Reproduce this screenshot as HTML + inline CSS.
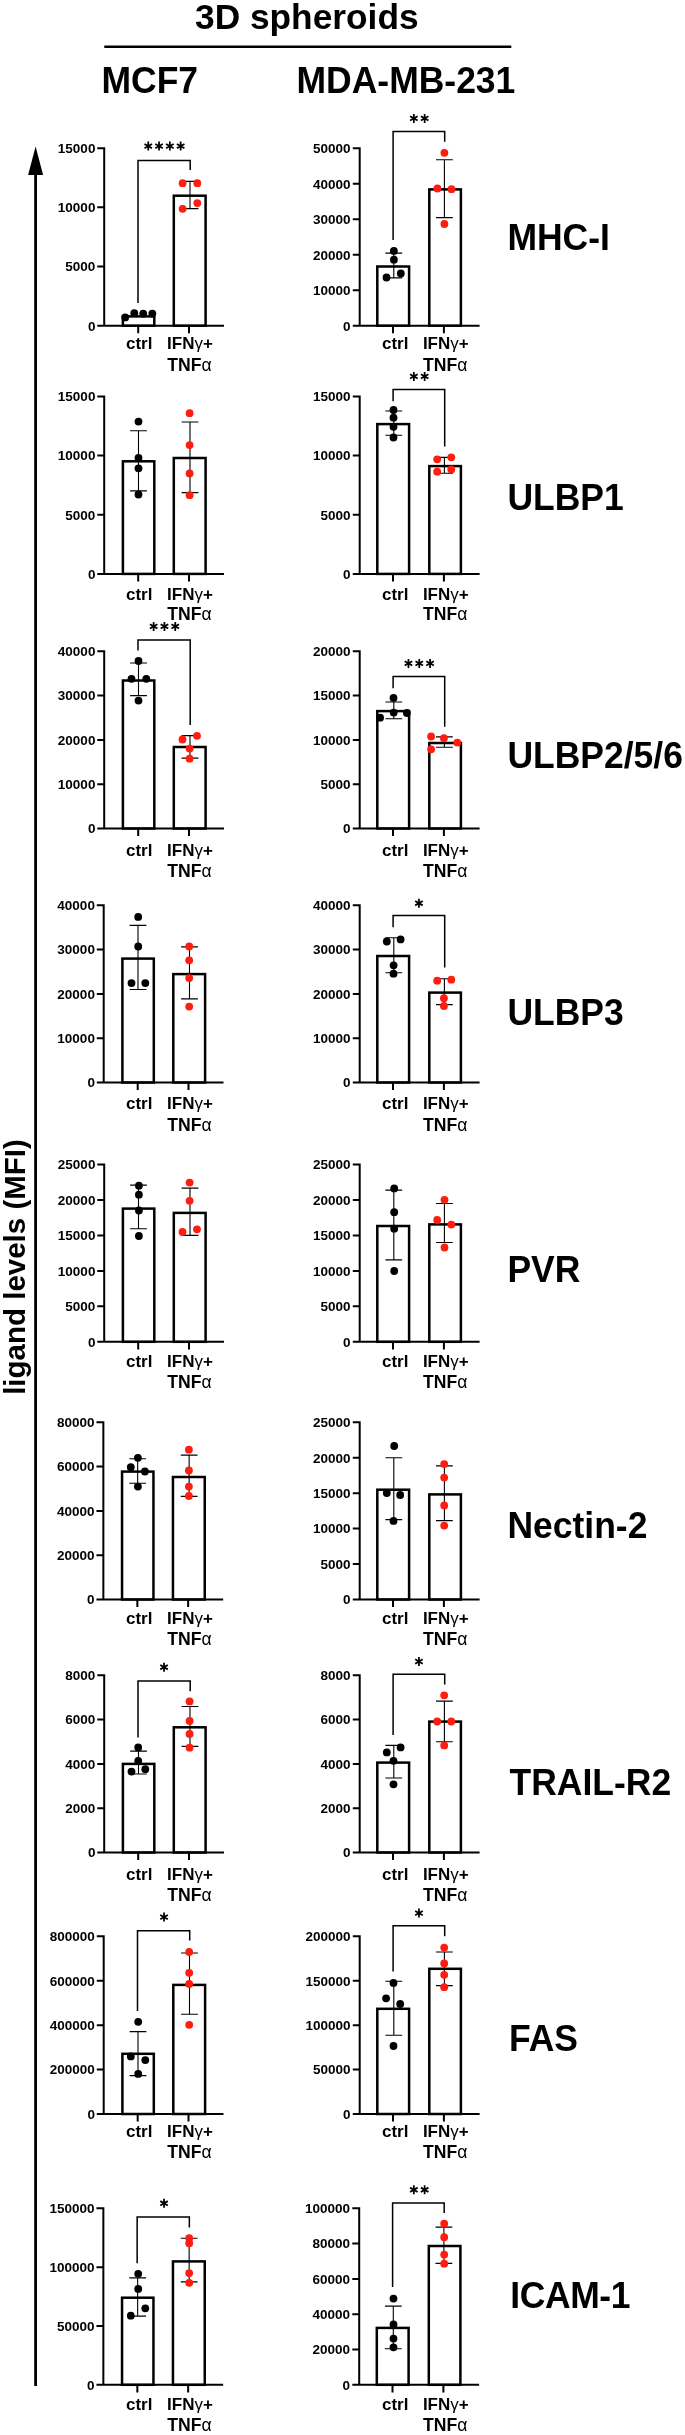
<!DOCTYPE html>
<html><head><meta charset="utf-8"><title>3D spheroids ligand levels</title>
<style>
html,body{margin:0;padding:0;background:#fff;}
body{width:685px;height:2435px;overflow:hidden;font-family:"Liberation Sans", sans-serif;}
svg{display:block;will-change:transform}
svg text{font-family:"Liberation Sans", sans-serif;font-weight:bold;fill:#000;}
</style></head><body>
<svg width="685" height="2435" viewBox="0 0 685 2435">
<rect width="685" height="2435" fill="#fff"/>
<text transform="translate(306.8 28.6) scale(1 1.02)" text-anchor="middle" font-size="35.3">3D spheroids</text>
<path d="M104.3 46.8H511.3" stroke="#000" stroke-width="2.5"/>
<text transform="translate(101.5 92.8) scale(1 1.04)" font-size="35.5">MCF7</text>
<text transform="translate(296.5 92.8) scale(1 1.04)" font-size="35.5">MDA-MB-231</text>
<path d="M35.6 2386V172" stroke="#000" stroke-width="2.8" fill="none"/>
<path d="M35.6 146.6L43.1 175H28.1Z" fill="#000"/>
<text transform="translate(24.5 1267) rotate(-90)" text-anchor="middle" font-size="29.5">ligand levels (MFI)</text>
<text transform="translate(507.4 250.4) scale(1 1.04)" font-size="35.5">MHC-I</text>
<text transform="translate(507.4 510.3) scale(1 1.04)" font-size="35.5">ULBP1</text>
<text transform="translate(507.4 767.9) scale(1 1.04)" font-size="35.5">ULBP2/5/6</text>
<text transform="translate(507.4 1024.6) scale(1 1.04)" font-size="35.5">ULBP3</text>
<text transform="translate(507.4 1281.6) scale(1 1.04)" font-size="35.5">PVR</text>
<text transform="translate(507.4 1537.8) scale(1 1.02)" font-size="35.5">Nectin-2</text>
<text transform="translate(509.5 1794.7) scale(1 1.04)" font-size="35.5">TRAIL-R2</text>
<text transform="translate(509.0 2050.9) scale(1 1.04)" font-size="35.5">FAS</text>
<text transform="translate(510.3 2307.8) scale(1 1.04)" font-size="35.5" letter-spacing="-0.4">ICAM-1</text>
<g><g><rect x="122.9" y="316.4" width="31.4" height="9.3" fill="#fff" stroke="#000" stroke-width="2.5"/>
<rect x="173.8" y="195.7" width="31.8" height="130" fill="#fff" stroke="#000" stroke-width="2.5"/>
<path d="M104.2 147.2V325.7M97.3 325.7H224M97.3 148.2H104.2M97.3 207.37H104.2M97.3 266.53H104.2M138.2 325.7V333.3M189 325.7V333.3" stroke="#000" stroke-width="2.0" fill="none"/>
<text x="95.4" y="153" text-anchor="end" font-size="13.5">15000</text>
<text x="95.4" y="212.17" text-anchor="end" font-size="13.5">10000</text>
<text x="95.4" y="271.33" text-anchor="end" font-size="13.5">5000</text>
<text x="95.4" y="330.5" text-anchor="end" font-size="13.5">0</text>
<path d="M190 181.4V208.6M181.6 181.4h16.8M181.6 208.6h16.8" stroke="#000" stroke-width="1.1" fill="none"/></g>
<g><text x="139.2" y="349.2" text-anchor="middle" font-size="17">ctrl</text>
<text x="190" y="349.2" text-anchor="middle" font-size="17">IFN<tspan font-weight="normal">γ</tspan>+</text>
<text x="189.5" y="370.5" text-anchor="middle" font-size="17.6">TNF<tspan font-weight="normal">α</tspan></text>
<circle cx="125.2" cy="317.4" r="3.9" fill="#000"/>
<circle cx="134.3" cy="313.2" r="3.9" fill="#000"/>
<circle cx="143.2" cy="313.6" r="3.9" fill="#000"/>
<circle cx="152.3" cy="313.6" r="3.9" fill="#000"/>
<circle cx="182.6" cy="183.2" r="3.9" fill="#ff1c10"/>
<circle cx="197.3" cy="183.2" r="3.9" fill="#ff1c10"/>
<circle cx="182.6" cy="208.8" r="3.9" fill="#ff1c10"/>
<circle cx="197.3" cy="203.1" r="3.9" fill="#ff1c10"/>
<path d="M138 303V160.6H190.2V170" stroke="#000" stroke-width="1.5" fill="none"/>
<path d="M148.25 141.6V150.6M144.48 143.92L152.02 148.28M152.02 143.92L144.48 148.28" stroke="#000" stroke-width="1.75" fill="none"/>
<path d="M159.05 141.6V150.6M155.28 143.92L162.82 148.28M162.82 143.92L155.28 148.28" stroke="#000" stroke-width="1.75" fill="none"/>
<path d="M169.85 141.6V150.6M166.08 143.92L173.62 148.28M173.62 143.92L166.08 148.28" stroke="#000" stroke-width="1.75" fill="none"/>
<path d="M180.65 141.6V150.6M176.88 143.92L184.42 148.28M184.42 143.92L176.88 148.28" stroke="#000" stroke-width="1.75" fill="none"/></g></g>
<g><g><rect x="377.3" y="266.5" width="31.8" height="59.2" fill="#fff" stroke="#000" stroke-width="2.5"/>
<rect x="429.3" y="189.4" width="31.6" height="136.3" fill="#fff" stroke="#000" stroke-width="2.5"/>
<path d="M359.7 147.2V325.7M352.8 325.7H479.6M352.8 148.2H359.7M352.8 183.7H359.7M352.8 219.2H359.7M352.8 254.7H359.7M352.8 290.2H359.7M393 325.7V333.3M443.9 325.7V333.3" stroke="#000" stroke-width="2.0" fill="none"/>
<text x="350.6" y="153" text-anchor="end" font-size="13.5">50000</text>
<text x="350.6" y="188.5" text-anchor="end" font-size="13.5">40000</text>
<text x="350.6" y="224" text-anchor="end" font-size="13.5">30000</text>
<text x="350.6" y="259.5" text-anchor="end" font-size="13.5">20000</text>
<text x="350.6" y="295" text-anchor="end" font-size="13.5">10000</text>
<text x="350.6" y="330.5" text-anchor="end" font-size="13.5">0</text>
<path d="M393.8 253.1V277.9M385.4 253.1h16.8M385.4 277.9h16.8" stroke="#000" stroke-width="1.1" fill="none"/>
<path d="M444.4 159.7V217.6M436 159.7h16.8M436 217.6h16.8" stroke="#000" stroke-width="1.1" fill="none"/></g>
<g><text x="395.2" y="349.2" text-anchor="middle" font-size="17">ctrl</text>
<text x="445.8" y="349.2" text-anchor="middle" font-size="17">IFN<tspan font-weight="normal">γ</tspan>+</text>
<text x="445.3" y="370.5" text-anchor="middle" font-size="17.6">TNF<tspan font-weight="normal">α</tspan></text>
<circle cx="393.9" cy="250.9" r="3.9" fill="#000"/>
<circle cx="393.9" cy="259.7" r="3.9" fill="#000"/>
<circle cx="386.5" cy="277.5" r="3.9" fill="#000"/>
<circle cx="400.8" cy="273.5" r="3.9" fill="#000"/>
<circle cx="444.4" cy="152.8" r="3.9" fill="#ff1c10"/>
<circle cx="437.4" cy="188.5" r="3.9" fill="#ff1c10"/>
<circle cx="451.5" cy="189.2" r="3.9" fill="#ff1c10"/>
<circle cx="444.4" cy="224" r="3.9" fill="#ff1c10"/>
<path d="M393.1 240V131.5H444.7V141.8" stroke="#000" stroke-width="1.5" fill="none"/>
<path d="M413.85 113.9V122.9M410.08 116.23L417.62 120.58M417.62 116.23L410.08 120.58" stroke="#000" stroke-width="1.75" fill="none"/>
<path d="M424.65 113.9V122.9M420.88 116.23L428.42 120.58M428.42 116.23L420.88 120.58" stroke="#000" stroke-width="1.75" fill="none"/></g></g>
<g><g><rect x="122.9" y="461.3" width="31.4" height="112.6" fill="#fff" stroke="#000" stroke-width="2.5"/>
<rect x="173.8" y="458" width="31.8" height="115.9" fill="#fff" stroke="#000" stroke-width="2.5"/>
<path d="M104.2 395.4V573.9M97.3 573.9H224M97.3 396.4H104.2M97.3 455.57H104.2M97.3 514.73H104.2M138.2 573.9V581.5M189 573.9V581.5" stroke="#000" stroke-width="2.0" fill="none"/>
<text x="95.4" y="401.2" text-anchor="end" font-size="13.5">15000</text>
<text x="95.4" y="460.37" text-anchor="end" font-size="13.5">10000</text>
<text x="95.4" y="519.53" text-anchor="end" font-size="13.5">5000</text>
<text x="95.4" y="578.7" text-anchor="end" font-size="13.5">0</text>
<path d="M138.5 430.8V490.9M130.1 430.8h16.8M130.1 490.9h16.8" stroke="#000" stroke-width="1.1" fill="none"/>
<path d="M190 422V492.6M181.6 422h16.8M181.6 492.6h16.8" stroke="#000" stroke-width="1.1" fill="none"/></g>
<g><text x="139.2" y="599.5" text-anchor="middle" font-size="17">ctrl</text>
<text x="190" y="599.5" text-anchor="middle" font-size="17">IFN<tspan font-weight="normal">γ</tspan>+</text>
<text x="189.5" y="619.8" text-anchor="middle" font-size="17.6">TNF<tspan font-weight="normal">α</tspan></text>
<circle cx="138.5" cy="421.6" r="3.9" fill="#000"/>
<circle cx="138.5" cy="457.9" r="3.9" fill="#000"/>
<circle cx="138.5" cy="468.3" r="3.9" fill="#000"/>
<circle cx="138.5" cy="494.5" r="3.9" fill="#000"/>
<circle cx="189.6" cy="413.2" r="3.9" fill="#ff1c10"/>
<circle cx="189.6" cy="445.1" r="3.9" fill="#ff1c10"/>
<circle cx="189.6" cy="473.4" r="3.9" fill="#ff1c10"/>
<circle cx="189.6" cy="495.2" r="3.9" fill="#ff1c10"/></g></g>
<g><g><rect x="377.3" y="424.1" width="31.8" height="149.8" fill="#fff" stroke="#000" stroke-width="2.5"/>
<rect x="429.3" y="466.1" width="31.6" height="107.8" fill="#fff" stroke="#000" stroke-width="2.5"/>
<path d="M359.7 395.4V573.9M352.8 573.9H479.6M352.8 396.4H359.7M352.8 455.57H359.7M352.8 514.73H359.7M393 573.9V581.5M443.9 573.9V581.5" stroke="#000" stroke-width="2.0" fill="none"/>
<text x="350.6" y="401.2" text-anchor="end" font-size="13.5">15000</text>
<text x="350.6" y="460.37" text-anchor="end" font-size="13.5">10000</text>
<text x="350.6" y="519.53" text-anchor="end" font-size="13.5">5000</text>
<text x="350.6" y="578.7" text-anchor="end" font-size="13.5">0</text>
<path d="M393.8 411V435.2M385.4 411h16.8M385.4 435.2h16.8" stroke="#000" stroke-width="1.1" fill="none"/>
<path d="M444.4 457.4V473.2M436 457.4h16.8M436 473.2h16.8" stroke="#000" stroke-width="1.1" fill="none"/></g>
<g><text x="395.2" y="599.5" text-anchor="middle" font-size="17">ctrl</text>
<text x="445.8" y="599.5" text-anchor="middle" font-size="17">IFN<tspan font-weight="normal">γ</tspan>+</text>
<text x="445.3" y="619.8" text-anchor="middle" font-size="17.6">TNF<tspan font-weight="normal">α</tspan></text>
<circle cx="393.5" cy="410" r="3.9" fill="#000"/>
<circle cx="393.5" cy="417.7" r="3.9" fill="#000"/>
<circle cx="393.5" cy="426.8" r="3.9" fill="#000"/>
<circle cx="393.5" cy="437.5" r="3.9" fill="#000"/>
<circle cx="437.2" cy="459.3" r="3.9" fill="#ff1c10"/>
<circle cx="451.3" cy="457.3" r="3.9" fill="#ff1c10"/>
<circle cx="437.2" cy="471.7" r="3.9" fill="#ff1c10"/>
<circle cx="451.3" cy="469.4" r="3.9" fill="#ff1c10"/>
<path d="M393.1 401.2V389.5H444.7V446.6" stroke="#000" stroke-width="1.5" fill="none"/>
<path d="M413.85 371.9V380.9M410.08 374.22L417.62 378.57M417.62 374.22L410.08 378.57" stroke="#000" stroke-width="1.75" fill="none"/>
<path d="M424.65 371.9V380.9M420.88 374.22L428.42 378.57M428.42 374.22L420.88 378.57" stroke="#000" stroke-width="1.75" fill="none"/></g></g>
<g><g><rect x="122.9" y="680.5" width="31.4" height="148" fill="#fff" stroke="#000" stroke-width="2.5"/>
<rect x="173.8" y="747" width="31.8" height="81.5" fill="#fff" stroke="#000" stroke-width="2.5"/>
<path d="M104.2 650.3V828.5M97.3 828.5H224M97.3 651.3H104.2M97.3 695.6H104.2M97.3 739.9H104.2M97.3 784.2H104.2M138.2 828.5V836.1M189 828.5V836.1" stroke="#000" stroke-width="2.0" fill="none"/>
<text x="95.4" y="656.1" text-anchor="end" font-size="13.5">40000</text>
<text x="95.4" y="700.4" text-anchor="end" font-size="13.5">30000</text>
<text x="95.4" y="744.7" text-anchor="end" font-size="13.5">20000</text>
<text x="95.4" y="789" text-anchor="end" font-size="13.5">10000</text>
<text x="95.4" y="833.3" text-anchor="end" font-size="13.5">0</text>
<path d="M138.5 663V695.6M130.1 663h16.8M130.1 695.6h16.8" stroke="#000" stroke-width="1.1" fill="none"/>
<path d="M190 735.6V758.1M181.6 735.6h16.8M181.6 758.1h16.8" stroke="#000" stroke-width="1.1" fill="none"/></g>
<g><text x="139.2" y="855.8" text-anchor="middle" font-size="17">ctrl</text>
<text x="190" y="855.8" text-anchor="middle" font-size="17">IFN<tspan font-weight="normal">γ</tspan>+</text>
<text x="189.5" y="876.8" text-anchor="middle" font-size="17.6">TNF<tspan font-weight="normal">α</tspan></text>
<circle cx="138.5" cy="661" r="3.9" fill="#000"/>
<circle cx="131.5" cy="678.8" r="3.9" fill="#000"/>
<circle cx="146.3" cy="678.8" r="3.9" fill="#000"/>
<circle cx="138.5" cy="700.6" r="3.9" fill="#000"/>
<circle cx="197" cy="735.8" r="3.9" fill="#ff1c10"/>
<circle cx="182.5" cy="739.5" r="3.9" fill="#ff1c10"/>
<circle cx="189.6" cy="748.6" r="3.9" fill="#ff1c10"/>
<circle cx="189.6" cy="758.7" r="3.9" fill="#ff1c10"/>
<path d="M138 650.5V640.1H190.2V725.1" stroke="#000" stroke-width="1.5" fill="none"/>
<path d="M153.65 621.9V630.9M149.88 624.23L157.42 628.58M157.42 624.23L149.88 628.58" stroke="#000" stroke-width="1.75" fill="none"/>
<path d="M164.45 621.9V630.9M160.68 624.23L168.22 628.58M168.22 624.23L160.68 628.58" stroke="#000" stroke-width="1.75" fill="none"/>
<path d="M175.25 621.9V630.9M171.48 624.23L179.02 628.58M179.02 624.23L171.48 628.58" stroke="#000" stroke-width="1.75" fill="none"/></g></g>
<g><g><rect x="377.3" y="711.1" width="31.8" height="117.4" fill="#fff" stroke="#000" stroke-width="2.5"/>
<rect x="429.3" y="743" width="31.6" height="85.5" fill="#fff" stroke="#000" stroke-width="2.5"/>
<path d="M359.7 650.3V828.5M352.8 828.5H479.6M352.8 651.3H359.7M352.8 695.6H359.7M352.8 739.9H359.7M352.8 784.2H359.7M393 828.5V836.1M443.9 828.5V836.1" stroke="#000" stroke-width="2.0" fill="none"/>
<text x="350.6" y="656.1" text-anchor="end" font-size="13.5">20000</text>
<text x="350.6" y="700.4" text-anchor="end" font-size="13.5">15000</text>
<text x="350.6" y="744.7" text-anchor="end" font-size="13.5">10000</text>
<text x="350.6" y="789" text-anchor="end" font-size="13.5">5000</text>
<text x="350.6" y="833.3" text-anchor="end" font-size="13.5">0</text>
<path d="M393.8 702V718.8M385.4 702h16.8M385.4 718.8h16.8" stroke="#000" stroke-width="1.1" fill="none"/>
<path d="M444.4 736.9V747.3M436 736.9h16.8M436 747.3h16.8" stroke="#000" stroke-width="1.1" fill="none"/></g>
<g><text x="395.2" y="855.8" text-anchor="middle" font-size="17">ctrl</text>
<text x="445.8" y="855.8" text-anchor="middle" font-size="17">IFN<tspan font-weight="normal">γ</tspan>+</text>
<text x="445.3" y="876.8" text-anchor="middle" font-size="17.6">TNF<tspan font-weight="normal">α</tspan></text>
<circle cx="393.5" cy="697.9" r="3.9" fill="#000"/>
<circle cx="380.1" cy="717.7" r="3.9" fill="#000"/>
<circle cx="393.7" cy="712.6" r="3.9" fill="#000"/>
<circle cx="406.9" cy="713" r="3.9" fill="#000"/>
<circle cx="431.1" cy="736.5" r="3.9" fill="#ff1c10"/>
<circle cx="443.9" cy="738.2" r="3.9" fill="#ff1c10"/>
<circle cx="457.3" cy="742.6" r="3.9" fill="#ff1c10"/>
<circle cx="431.1" cy="749.3" r="3.9" fill="#ff1c10"/>
<path d="M393.1 688.2V676.4H444.7V726.8" stroke="#000" stroke-width="1.5" fill="none"/>
<path d="M408.45 658.9V667.9M404.68 661.23L412.22 665.58M412.22 661.23L404.68 665.58" stroke="#000" stroke-width="1.75" fill="none"/>
<path d="M419.25 658.9V667.9M415.48 661.23L423.02 665.58M423.02 661.23L415.48 665.58" stroke="#000" stroke-width="1.75" fill="none"/>
<path d="M430.05 658.9V667.9M426.28 661.23L433.82 665.58M433.82 661.23L426.28 665.58" stroke="#000" stroke-width="1.75" fill="none"/></g></g>
<g><g transform="translate(-0.5 0)"><rect x="122.9" y="958.6" width="31.4" height="123.9" fill="#fff" stroke="#000" stroke-width="2.5"/>
<rect x="173.8" y="974.1" width="31.8" height="108.4" fill="#fff" stroke="#000" stroke-width="2.5"/>
<path d="M104.2 904.3V1082.5M97.3 1082.5H224M97.3 905.3H104.2M97.3 949.6H104.2M97.3 993.9H104.2M97.3 1038.2H104.2M138.2 1082.5V1090.1M189 1082.5V1090.1" stroke="#000" stroke-width="2.0" fill="none"/>
<text x="95.4" y="910.1" text-anchor="end" font-size="13.5">40000</text>
<text x="95.4" y="954.4" text-anchor="end" font-size="13.5">30000</text>
<text x="95.4" y="998.7" text-anchor="end" font-size="13.5">20000</text>
<text x="95.4" y="1043" text-anchor="end" font-size="13.5">10000</text>
<text x="95.4" y="1087.3" text-anchor="end" font-size="13.5">0</text>
<path d="M138.5 925.4V989.5M130.1 925.4h16.8M130.1 989.5h16.8" stroke="#000" stroke-width="1.1" fill="none"/>
<path d="M190 946.9V998.9M181.6 946.9h16.8M181.6 998.9h16.8" stroke="#000" stroke-width="1.1" fill="none"/></g>
<g><text x="139.2" y="1109.4" text-anchor="middle" font-size="17">ctrl</text>
<text x="190" y="1109.4" text-anchor="middle" font-size="17">IFN<tspan font-weight="normal">γ</tspan>+</text>
<text x="189.5" y="1130.8" text-anchor="middle" font-size="17.6">TNF<tspan font-weight="normal">α</tspan></text>
<circle cx="138.2" cy="916.9" r="3.9" fill="#000"/>
<circle cx="138.2" cy="946.5" r="3.9" fill="#000"/>
<circle cx="131.5" cy="983.1" r="3.9" fill="#000"/>
<circle cx="145.3" cy="983.1" r="3.9" fill="#000"/>
<circle cx="189.2" cy="946.5" r="3.9" fill="#ff1c10"/>
<circle cx="189.2" cy="960.3" r="3.9" fill="#ff1c10"/>
<circle cx="189.2" cy="978.1" r="3.9" fill="#ff1c10"/>
<circle cx="189.2" cy="1006.6" r="3.9" fill="#ff1c10"/></g></g>
<g><g><rect x="377.3" y="956" width="31.8" height="126.5" fill="#fff" stroke="#000" stroke-width="2.5"/>
<rect x="429.3" y="992.6" width="31.6" height="89.9" fill="#fff" stroke="#000" stroke-width="2.5"/>
<path d="M359.7 904.3V1082.5M352.8 1082.5H479.6M352.8 905.3H359.7M352.8 949.6H359.7M352.8 993.9H359.7M352.8 1038.2H359.7M393 1082.5V1090.1M443.9 1082.5V1090.1" stroke="#000" stroke-width="2.0" fill="none"/>
<text x="350.6" y="910.1" text-anchor="end" font-size="13.5">40000</text>
<text x="350.6" y="954.4" text-anchor="end" font-size="13.5">30000</text>
<text x="350.6" y="998.7" text-anchor="end" font-size="13.5">20000</text>
<text x="350.6" y="1043" text-anchor="end" font-size="13.5">10000</text>
<text x="350.6" y="1087.3" text-anchor="end" font-size="13.5">0</text>
<path d="M393.8 937.8V972.7M385.4 937.8h16.8M385.4 972.7h16.8" stroke="#000" stroke-width="1.1" fill="none"/>
<path d="M444.4 978.8V1004.6M436 978.8h16.8M436 1004.6h16.8" stroke="#000" stroke-width="1.1" fill="none"/></g>
<g><text x="395.2" y="1109.4" text-anchor="middle" font-size="17">ctrl</text>
<text x="445.8" y="1109.4" text-anchor="middle" font-size="17">IFN<tspan font-weight="normal">γ</tspan>+</text>
<text x="445.3" y="1130.8" text-anchor="middle" font-size="17.6">TNF<tspan font-weight="normal">α</tspan></text>
<circle cx="386.8" cy="941.5" r="3.9" fill="#000"/>
<circle cx="400.6" cy="939.4" r="3.9" fill="#000"/>
<circle cx="393.6" cy="965.3" r="3.9" fill="#000"/>
<circle cx="393.5" cy="973.7" r="3.9" fill="#000"/>
<circle cx="437.2" cy="980.7" r="3.9" fill="#ff1c10"/>
<circle cx="451.3" cy="979.7" r="3.9" fill="#ff1c10"/>
<circle cx="443.9" cy="998.2" r="3.9" fill="#ff1c10"/>
<circle cx="443.9" cy="1006" r="3.9" fill="#ff1c10"/>
<path d="M393.1 927.3V915.6H444.7V967.6" stroke="#000" stroke-width="1.5" fill="none"/>
<path d="M418.95 898.7V907.7M415.18 901.03L422.72 905.38M422.72 901.03L415.18 905.38" stroke="#000" stroke-width="1.75" fill="none"/></g></g>
<g><g><rect x="122.9" y="1208.6" width="31.4" height="133.2" fill="#fff" stroke="#000" stroke-width="2.5"/>
<rect x="173.8" y="1212.9" width="31.8" height="128.9" fill="#fff" stroke="#000" stroke-width="2.5"/>
<path d="M104.2 1163.6V1341.8M97.3 1341.8H224M97.3 1164.6H104.2M97.3 1200.04H104.2M97.3 1235.48H104.2M97.3 1270.92H104.2M97.3 1306.36H104.2M138.2 1341.8V1349.4M189 1341.8V1349.4" stroke="#000" stroke-width="2.0" fill="none"/>
<text x="95.4" y="1169.4" text-anchor="end" font-size="13.5">25000</text>
<text x="95.4" y="1204.84" text-anchor="end" font-size="13.5">20000</text>
<text x="95.4" y="1240.28" text-anchor="end" font-size="13.5">15000</text>
<text x="95.4" y="1275.72" text-anchor="end" font-size="13.5">10000</text>
<text x="95.4" y="1311.16" text-anchor="end" font-size="13.5">5000</text>
<text x="95.4" y="1346.6" text-anchor="end" font-size="13.5">0</text>
<path d="M138.5 1185.1V1228.7M130.1 1185.1h16.8M130.1 1228.7h16.8" stroke="#000" stroke-width="1.1" fill="none"/>
<path d="M190 1188.1V1235.4M181.6 1188.1h16.8M181.6 1235.4h16.8" stroke="#000" stroke-width="1.1" fill="none"/></g>
<g><text x="139.2" y="1366.5" text-anchor="middle" font-size="17">ctrl</text>
<text x="190" y="1366.5" text-anchor="middle" font-size="17">IFN<tspan font-weight="normal">γ</tspan>+</text>
<text x="189.5" y="1387.7" text-anchor="middle" font-size="17.6">TNF<tspan font-weight="normal">α</tspan></text>
<circle cx="138.9" cy="1185.7" r="3.9" fill="#000"/>
<circle cx="138.9" cy="1194.7" r="3.9" fill="#000"/>
<circle cx="138.9" cy="1210.5" r="3.9" fill="#000"/>
<circle cx="138.9" cy="1236" r="3.9" fill="#000"/>
<circle cx="189.6" cy="1182.6" r="3.9" fill="#ff1c10"/>
<circle cx="189.6" cy="1200.8" r="3.9" fill="#ff1c10"/>
<circle cx="182.5" cy="1232" r="3.9" fill="#ff1c10"/>
<circle cx="197" cy="1229.3" r="3.9" fill="#ff1c10"/></g></g>
<g><g><rect x="377.3" y="1226" width="31.8" height="115.8" fill="#fff" stroke="#000" stroke-width="2.5"/>
<rect x="429.3" y="1224.4" width="31.6" height="117.4" fill="#fff" stroke="#000" stroke-width="2.5"/>
<path d="M359.7 1163.6V1341.8M352.8 1341.8H479.6M352.8 1164.6H359.7M352.8 1200.04H359.7M352.8 1235.48H359.7M352.8 1270.92H359.7M352.8 1306.36H359.7M393 1341.8V1349.4M443.9 1341.8V1349.4" stroke="#000" stroke-width="2.0" fill="none"/>
<text x="350.6" y="1169.4" text-anchor="end" font-size="13.5">25000</text>
<text x="350.6" y="1204.84" text-anchor="end" font-size="13.5">20000</text>
<text x="350.6" y="1240.28" text-anchor="end" font-size="13.5">15000</text>
<text x="350.6" y="1275.72" text-anchor="end" font-size="13.5">10000</text>
<text x="350.6" y="1311.16" text-anchor="end" font-size="13.5">5000</text>
<text x="350.6" y="1346.6" text-anchor="end" font-size="13.5">0</text>
<path d="M393.8 1190.1V1259.9M385.4 1190.1h16.8M385.4 1259.9h16.8" stroke="#000" stroke-width="1.1" fill="none"/>
<path d="M444.4 1203.5V1242.5M436 1203.5h16.8M436 1242.5h16.8" stroke="#000" stroke-width="1.1" fill="none"/></g>
<g><text x="395.2" y="1366.5" text-anchor="middle" font-size="17">ctrl</text>
<text x="445.8" y="1366.5" text-anchor="middle" font-size="17">IFN<tspan font-weight="normal">γ</tspan>+</text>
<text x="445.3" y="1387.7" text-anchor="middle" font-size="17.6">TNF<tspan font-weight="normal">α</tspan></text>
<circle cx="394.2" cy="1188.4" r="3.9" fill="#000"/>
<circle cx="394.2" cy="1212.2" r="3.9" fill="#000"/>
<circle cx="394.2" cy="1228.7" r="3.9" fill="#000"/>
<circle cx="394.2" cy="1271" r="3.9" fill="#000"/>
<circle cx="444.5" cy="1199.8" r="3.9" fill="#ff1c10"/>
<circle cx="437.2" cy="1219.9" r="3.9" fill="#ff1c10"/>
<circle cx="451.3" cy="1224.6" r="3.9" fill="#ff1c10"/>
<circle cx="444.5" cy="1247.5" r="3.9" fill="#ff1c10"/></g></g>
<g><g transform="translate(-0.85 0)"><rect x="122.9" y="1471.6" width="31.4" height="127.9" fill="#fff" stroke="#000" stroke-width="2.5"/>
<rect x="173.8" y="1477" width="31.8" height="122.5" fill="#fff" stroke="#000" stroke-width="2.5"/>
<path d="M104.2 1421.3V1599.5M97.3 1599.5H224M97.3 1422.3H104.2M97.3 1466.6H104.2M97.3 1510.9H104.2M97.3 1555.2H104.2M138.2 1599.5V1607.1M189 1599.5V1607.1" stroke="#000" stroke-width="2.0" fill="none"/>
<text x="95.4" y="1427.1" text-anchor="end" font-size="13.5">80000</text>
<text x="95.4" y="1471.4" text-anchor="end" font-size="13.5">60000</text>
<text x="95.4" y="1515.7" text-anchor="end" font-size="13.5">40000</text>
<text x="95.4" y="1560" text-anchor="end" font-size="13.5">20000</text>
<text x="95.4" y="1604.3" text-anchor="end" font-size="13.5">0</text>
<path d="M138.5 1458.8V1483.3M130.1 1458.8h16.8M130.1 1483.3h16.8" stroke="#000" stroke-width="1.1" fill="none"/>
<path d="M190 1455.1V1496.4M181.6 1455.1h16.8M181.6 1496.4h16.8" stroke="#000" stroke-width="1.1" fill="none"/></g>
<g><text x="139.2" y="1623.8" text-anchor="middle" font-size="17">ctrl</text>
<text x="190" y="1623.8" text-anchor="middle" font-size="17">IFN<tspan font-weight="normal">γ</tspan>+</text>
<text x="189.5" y="1644.7" text-anchor="middle" font-size="17.6">TNF<tspan font-weight="normal">α</tspan></text>
<circle cx="137.9" cy="1457.8" r="3.9" fill="#000"/>
<circle cx="130.8" cy="1467.2" r="3.9" fill="#000"/>
<circle cx="144.9" cy="1471.5" r="3.9" fill="#000"/>
<circle cx="137.9" cy="1486.6" r="3.9" fill="#000"/>
<circle cx="188.9" cy="1449.7" r="3.9" fill="#ff1c10"/>
<circle cx="188.9" cy="1470.5" r="3.9" fill="#ff1c10"/>
<circle cx="188.9" cy="1486.6" r="3.9" fill="#ff1c10"/>
<circle cx="188.9" cy="1496" r="3.9" fill="#ff1c10"/></g></g>
<g><g><rect x="377.3" y="1489.7" width="31.8" height="109.8" fill="#fff" stroke="#000" stroke-width="2.5"/>
<rect x="429.3" y="1494.4" width="31.6" height="105.1" fill="#fff" stroke="#000" stroke-width="2.5"/>
<path d="M359.7 1421.3V1599.5M352.8 1599.5H479.6M352.8 1422.3H359.7M352.8 1457.74H359.7M352.8 1493.18H359.7M352.8 1528.62H359.7M352.8 1564.06H359.7M393 1599.5V1607.1M443.9 1599.5V1607.1" stroke="#000" stroke-width="2.0" fill="none"/>
<text x="350.6" y="1427.1" text-anchor="end" font-size="13.5">25000</text>
<text x="350.6" y="1462.54" text-anchor="end" font-size="13.5">20000</text>
<text x="350.6" y="1497.98" text-anchor="end" font-size="13.5">15000</text>
<text x="350.6" y="1533.42" text-anchor="end" font-size="13.5">10000</text>
<text x="350.6" y="1568.86" text-anchor="end" font-size="13.5">5000</text>
<text x="350.6" y="1604.3" text-anchor="end" font-size="13.5">0</text>
<path d="M393.8 1457.8V1519.6M385.4 1457.8h16.8M385.4 1519.6h16.8" stroke="#000" stroke-width="1.1" fill="none"/>
<path d="M444.4 1465.9V1520.6M436 1465.9h16.8M436 1520.6h16.8" stroke="#000" stroke-width="1.1" fill="none"/></g>
<g><text x="395.2" y="1623.8" text-anchor="middle" font-size="17">ctrl</text>
<text x="445.8" y="1623.8" text-anchor="middle" font-size="17">IFN<tspan font-weight="normal">γ</tspan>+</text>
<text x="445.3" y="1644.7" text-anchor="middle" font-size="17.6">TNF<tspan font-weight="normal">α</tspan></text>
<circle cx="394.2" cy="1446" r="3.9" fill="#000"/>
<circle cx="386.8" cy="1493" r="3.9" fill="#000"/>
<circle cx="400.2" cy="1495" r="3.9" fill="#000"/>
<circle cx="393.5" cy="1520.9" r="3.9" fill="#000"/>
<circle cx="444.2" cy="1464.1" r="3.9" fill="#ff1c10"/>
<circle cx="444.2" cy="1477.6" r="3.9" fill="#ff1c10"/>
<circle cx="444.2" cy="1505.4" r="3.9" fill="#ff1c10"/>
<circle cx="444.2" cy="1525.6" r="3.9" fill="#ff1c10"/></g></g>
<g><g><rect x="122.9" y="1763.9" width="31.4" height="88.6" fill="#fff" stroke="#000" stroke-width="2.5"/>
<rect x="173.8" y="1727.3" width="31.8" height="125.2" fill="#fff" stroke="#000" stroke-width="2.5"/>
<path d="M104.2 1674.3V1852.5M97.3 1852.5H224M97.3 1675.3H104.2M97.3 1719.6H104.2M97.3 1763.9H104.2M97.3 1808.2H104.2M138.2 1852.5V1860.1M189 1852.5V1860.1" stroke="#000" stroke-width="2.0" fill="none"/>
<text x="95.4" y="1680.1" text-anchor="end" font-size="13.5">8000</text>
<text x="95.4" y="1724.4" text-anchor="end" font-size="13.5">6000</text>
<text x="95.4" y="1768.7" text-anchor="end" font-size="13.5">4000</text>
<text x="95.4" y="1813" text-anchor="end" font-size="13.5">2000</text>
<text x="95.4" y="1857.3" text-anchor="end" font-size="13.5">0</text>
<path d="M138.5 1751.1V1774M130.1 1751.1h16.8M130.1 1774h16.8" stroke="#000" stroke-width="1.1" fill="none"/>
<path d="M190 1706.5V1746.4M181.6 1706.5h16.8M181.6 1746.4h16.8" stroke="#000" stroke-width="1.1" fill="none"/></g>
<g><text x="139.2" y="1879.8" text-anchor="middle" font-size="17">ctrl</text>
<text x="190" y="1879.8" text-anchor="middle" font-size="17">IFN<tspan font-weight="normal">γ</tspan>+</text>
<text x="189.5" y="1900.8" text-anchor="middle" font-size="17.6">TNF<tspan font-weight="normal">α</tspan></text>
<circle cx="138.2" cy="1747.4" r="3.9" fill="#000"/>
<circle cx="138.2" cy="1760.8" r="3.9" fill="#000"/>
<circle cx="131.5" cy="1771.6" r="3.9" fill="#000"/>
<circle cx="145.3" cy="1769.2" r="3.9" fill="#000"/>
<circle cx="189.6" cy="1701.4" r="3.9" fill="#ff1c10"/>
<circle cx="189.6" cy="1720.9" r="3.9" fill="#ff1c10"/>
<circle cx="189.6" cy="1733.9" r="3.9" fill="#ff1c10"/>
<circle cx="189.6" cy="1747.7" r="3.9" fill="#ff1c10"/>
<path d="M138 1737.6V1680.9H190.2V1691.2" stroke="#000" stroke-width="1.5" fill="none"/>
<path d="M164.05 1662.7V1671.7M160.28 1665.03L167.82 1669.38M167.82 1665.03L160.28 1669.38" stroke="#000" stroke-width="1.75" fill="none"/></g></g>
<g><g><rect x="377.3" y="1762.6" width="31.8" height="89.9" fill="#fff" stroke="#000" stroke-width="2.5"/>
<rect x="429.3" y="1721.6" width="31.6" height="130.9" fill="#fff" stroke="#000" stroke-width="2.5"/>
<path d="M359.7 1674.3V1852.5M352.8 1852.5H479.6M352.8 1675.3H359.7M352.8 1719.6H359.7M352.8 1763.9H359.7M352.8 1808.2H359.7M393 1852.5V1860.1M443.9 1852.5V1860.1" stroke="#000" stroke-width="2.0" fill="none"/>
<text x="350.6" y="1680.1" text-anchor="end" font-size="13.5">8000</text>
<text x="350.6" y="1724.4" text-anchor="end" font-size="13.5">6000</text>
<text x="350.6" y="1768.7" text-anchor="end" font-size="13.5">4000</text>
<text x="350.6" y="1813" text-anchor="end" font-size="13.5">2000</text>
<text x="350.6" y="1857.3" text-anchor="end" font-size="13.5">0</text>
<path d="M393.8 1745.4V1778M385.4 1745.4h16.8M385.4 1778h16.8" stroke="#000" stroke-width="1.1" fill="none"/>
<path d="M444.4 1701.1V1741.7M436 1701.1h16.8M436 1741.7h16.8" stroke="#000" stroke-width="1.1" fill="none"/></g>
<g><text x="395.2" y="1879.8" text-anchor="middle" font-size="17">ctrl</text>
<text x="445.8" y="1879.8" text-anchor="middle" font-size="17">IFN<tspan font-weight="normal">γ</tspan>+</text>
<text x="445.3" y="1900.8" text-anchor="middle" font-size="17.6">TNF<tspan font-weight="normal">α</tspan></text>
<circle cx="386.8" cy="1752.4" r="3.9" fill="#000"/>
<circle cx="400.6" cy="1747.4" r="3.9" fill="#000"/>
<circle cx="393.5" cy="1760.8" r="3.9" fill="#000"/>
<circle cx="393.5" cy="1784.3" r="3.9" fill="#000"/>
<circle cx="444.2" cy="1695.3" r="3.9" fill="#ff1c10"/>
<circle cx="437.2" cy="1721.5" r="3.9" fill="#ff1c10"/>
<circle cx="451.3" cy="1721.5" r="3.9" fill="#ff1c10"/>
<circle cx="444.2" cy="1745.4" r="3.9" fill="#ff1c10"/>
<path d="M393.1 1735V1674.2H444.7V1684.6" stroke="#000" stroke-width="1.5" fill="none"/>
<path d="M418.95 1657V1666M415.18 1659.33L422.72 1663.67M422.72 1659.33L415.18 1663.67" stroke="#000" stroke-width="1.75" fill="none"/></g></g>
<g><g transform="translate(-0.5 0)"><rect x="122.9" y="2053.8" width="31.4" height="60.2" fill="#fff" stroke="#000" stroke-width="2.5"/>
<rect x="173.8" y="1984.9" width="31.8" height="129.1" fill="#fff" stroke="#000" stroke-width="2.5"/>
<path d="M104.2 1935.3V2114M97.3 2114H224M97.3 1936.3H104.2M97.3 1980.72H104.2M97.3 2025.15H104.2M97.3 2069.57H104.2M138.2 2114V2121.6M189 2114V2121.6" stroke="#000" stroke-width="2.0" fill="none"/>
<text x="95.4" y="1941.1" text-anchor="end" font-size="13.5">800000</text>
<text x="95.4" y="1985.52" text-anchor="end" font-size="13.5">600000</text>
<text x="95.4" y="2029.95" text-anchor="end" font-size="13.5">400000</text>
<text x="95.4" y="2074.38" text-anchor="end" font-size="13.5">200000</text>
<text x="95.4" y="2118.8" text-anchor="end" font-size="13.5">0</text>
<path d="M138.5 2031.6V2075.6M130.1 2031.6h16.8M130.1 2075.6h16.8" stroke="#000" stroke-width="1.1" fill="none"/>
<path d="M190 1953V2014.2M181.6 1953h16.8M181.6 2014.2h16.8" stroke="#000" stroke-width="1.1" fill="none"/></g>
<g><text x="139.2" y="2137.4" text-anchor="middle" font-size="17">ctrl</text>
<text x="190" y="2137.4" text-anchor="middle" font-size="17">IFN<tspan font-weight="normal">γ</tspan>+</text>
<text x="189.5" y="2158.1" text-anchor="middle" font-size="17.6">TNF<tspan font-weight="normal">α</tspan></text>
<circle cx="138.2" cy="2021.8" r="3.9" fill="#000"/>
<circle cx="130.8" cy="2056.4" r="3.9" fill="#000"/>
<circle cx="145.3" cy="2060.1" r="3.9" fill="#000"/>
<circle cx="138.2" cy="2073.9" r="3.9" fill="#000"/>
<circle cx="189.2" cy="1952" r="3.9" fill="#ff1c10"/>
<circle cx="189.2" cy="1972.8" r="3.9" fill="#ff1c10"/>
<circle cx="189.2" cy="1983.9" r="3.9" fill="#ff1c10"/>
<circle cx="189.2" cy="2024.8" r="3.9" fill="#ff1c10"/>
<path d="M137.5 2011.1V1930.8H189.7V1940.5" stroke="#000" stroke-width="1.5" fill="none"/>
<path d="M164.05 1912.6V1921.6M160.28 1914.93L167.82 1919.28M167.82 1914.93L160.28 1919.28" stroke="#000" stroke-width="1.75" fill="none"/></g></g>
<g><g><rect x="377.3" y="2008.8" width="31.8" height="105.2" fill="#fff" stroke="#000" stroke-width="2.5"/>
<rect x="429.3" y="1968.8" width="31.6" height="145.2" fill="#fff" stroke="#000" stroke-width="2.5"/>
<path d="M359.7 1935.3V2114M352.8 2114H479.6M352.8 1936.3H359.7M352.8 1980.72H359.7M352.8 2025.15H359.7M352.8 2069.57H359.7M393 2114V2121.6M443.9 2114V2121.6" stroke="#000" stroke-width="2.0" fill="none"/>
<text x="350.6" y="1941.1" text-anchor="end" font-size="13.5">200000</text>
<text x="350.6" y="1985.52" text-anchor="end" font-size="13.5">150000</text>
<text x="350.6" y="2029.95" text-anchor="end" font-size="13.5">100000</text>
<text x="350.6" y="2074.38" text-anchor="end" font-size="13.5">50000</text>
<text x="350.6" y="2118.8" text-anchor="end" font-size="13.5">0</text>
<path d="M393.8 1981.3V2035.3M385.4 1981.3h16.8M385.4 2035.3h16.8" stroke="#000" stroke-width="1.1" fill="none"/>
<path d="M444.4 1952V1985.6M436 1952h16.8M436 1985.6h16.8" stroke="#000" stroke-width="1.1" fill="none"/></g>
<g><text x="395.2" y="2137.4" text-anchor="middle" font-size="17">ctrl</text>
<text x="445.8" y="2137.4" text-anchor="middle" font-size="17">IFN<tspan font-weight="normal">γ</tspan>+</text>
<text x="445.3" y="2158.1" text-anchor="middle" font-size="17.6">TNF<tspan font-weight="normal">α</tspan></text>
<circle cx="393.5" cy="1982.9" r="3.9" fill="#000"/>
<circle cx="386.1" cy="1998.3" r="3.9" fill="#000"/>
<circle cx="400.2" cy="2004" r="3.9" fill="#000"/>
<circle cx="393.5" cy="2046" r="3.9" fill="#000"/>
<circle cx="444.2" cy="1947.6" r="3.9" fill="#ff1c10"/>
<circle cx="444.2" cy="1963.4" r="3.9" fill="#ff1c10"/>
<circle cx="444.2" cy="1974.8" r="3.9" fill="#ff1c10"/>
<circle cx="444.2" cy="1987.2" r="3.9" fill="#ff1c10"/>
<path d="M393.1 1971.4V1925.8H444.7V1936.2" stroke="#000" stroke-width="1.5" fill="none"/>
<path d="M418.95 1908.6V1917.6M415.18 1910.93L422.72 1915.28M422.72 1910.93L415.18 1915.28" stroke="#000" stroke-width="1.75" fill="none"/></g></g>
<g><g transform="translate(-0.85 0)"><rect x="122.9" y="2297.7" width="31.4" height="87.1" fill="#fff" stroke="#000" stroke-width="2.5"/>
<rect x="173.8" y="2261.4" width="31.8" height="123.4" fill="#fff" stroke="#000" stroke-width="2.5"/>
<path d="M104.2 2207.3V2384.8M97.3 2384.8H224M97.3 2208.3H104.2M97.3 2267.13H104.2M97.3 2325.97H104.2M138.2 2384.8V2392.4M189 2384.8V2392.4" stroke="#000" stroke-width="2.0" fill="none"/>
<text x="95.4" y="2213.1" text-anchor="end" font-size="13.5">150000</text>
<text x="95.4" y="2271.93" text-anchor="end" font-size="13.5">100000</text>
<text x="95.4" y="2330.77" text-anchor="end" font-size="13.5">50000</text>
<text x="95.4" y="2389.6" text-anchor="end" font-size="13.5">0</text>
<path d="M138.5 2277.9V2316.1M130.1 2277.9h16.8M130.1 2316.1h16.8" stroke="#000" stroke-width="1.1" fill="none"/>
<path d="M190 2238.2V2281.9M181.6 2238.2h16.8M181.6 2281.9h16.8" stroke="#000" stroke-width="1.1" fill="none"/></g>
<g><text x="139.2" y="2409.5" text-anchor="middle" font-size="17">ctrl</text>
<text x="190" y="2409.5" text-anchor="middle" font-size="17">IFN<tspan font-weight="normal">γ</tspan>+</text>
<text x="189.5" y="2430.7" text-anchor="middle" font-size="17.6">TNF<tspan font-weight="normal">α</tspan></text>
<circle cx="138.2" cy="2273.8" r="3.9" fill="#000"/>
<circle cx="138.2" cy="2288.9" r="3.9" fill="#000"/>
<circle cx="130.8" cy="2315.7" r="3.9" fill="#000"/>
<circle cx="145.3" cy="2308.3" r="3.9" fill="#000"/>
<circle cx="189.2" cy="2238.2" r="3.9" fill="#ff1c10"/>
<circle cx="189.2" cy="2243.2" r="3.9" fill="#ff1c10"/>
<circle cx="189.2" cy="2273.1" r="3.9" fill="#ff1c10"/>
<circle cx="189.2" cy="2282.8" r="3.9" fill="#ff1c10"/>
<path d="M137.15 2263.3V2217H189.35V2227.4" stroke="#000" stroke-width="1.5" fill="none"/>
<path d="M164.05 2198.8V2207.8M160.28 2201.12L167.82 2205.47M167.82 2201.12L160.28 2205.47" stroke="#000" stroke-width="1.75" fill="none"/></g></g>
<g><g transform="translate(-0.5 0)"><rect x="377.3" y="2327.9" width="31.8" height="56.9" fill="#fff" stroke="#000" stroke-width="2.5"/>
<rect x="429.3" y="2246" width="31.6" height="138.8" fill="#fff" stroke="#000" stroke-width="2.5"/>
<path d="M359.7 2207.3V2384.8M352.8 2384.8H479.6M352.8 2208.3H359.7M352.8 2243.6H359.7M352.8 2278.9H359.7M352.8 2314.2H359.7M352.8 2349.5H359.7M393 2384.8V2392.4M443.9 2384.8V2392.4" stroke="#000" stroke-width="2.0" fill="none"/>
<text x="350.6" y="2213.1" text-anchor="end" font-size="13.5">100000</text>
<text x="350.6" y="2248.4" text-anchor="end" font-size="13.5">80000</text>
<text x="350.6" y="2283.7" text-anchor="end" font-size="13.5">60000</text>
<text x="350.6" y="2319" text-anchor="end" font-size="13.5">40000</text>
<text x="350.6" y="2354.3" text-anchor="end" font-size="13.5">20000</text>
<text x="350.6" y="2389.6" text-anchor="end" font-size="13.5">0</text>
<path d="M393.8 2306.1V2348.7M385.4 2306.1h16.8M385.4 2348.7h16.8" stroke="#000" stroke-width="1.1" fill="none"/>
<path d="M444.4 2227.1V2263.4M436 2227.1h16.8M436 2263.4h16.8" stroke="#000" stroke-width="1.1" fill="none"/></g>
<g><text x="395.2" y="2409.5" text-anchor="middle" font-size="17">ctrl</text>
<text x="445.8" y="2409.5" text-anchor="middle" font-size="17">IFN<tspan font-weight="normal">γ</tspan>+</text>
<text x="445.3" y="2430.7" text-anchor="middle" font-size="17.6">TNF<tspan font-weight="normal">α</tspan></text>
<circle cx="393.5" cy="2298.6" r="3.9" fill="#000"/>
<circle cx="393.5" cy="2324.5" r="3.9" fill="#000"/>
<circle cx="393.5" cy="2338.6" r="3.9" fill="#000"/>
<circle cx="393.5" cy="2347.3" r="3.9" fill="#000"/>
<circle cx="444.2" cy="2223.7" r="3.9" fill="#ff1c10"/>
<circle cx="444.2" cy="2237.2" r="3.9" fill="#ff1c10"/>
<circle cx="444.2" cy="2254.6" r="3.9" fill="#ff1c10"/>
<circle cx="444.2" cy="2263.7" r="3.9" fill="#ff1c10"/>
<path d="M392.6 2286.9V2202.9H444.2V2213" stroke="#000" stroke-width="1.5" fill="none"/>
<path d="M413.85 2185.3V2194.3M410.08 2187.62L417.62 2191.97M417.62 2187.62L410.08 2191.97" stroke="#000" stroke-width="1.75" fill="none"/>
<path d="M424.65 2185.3V2194.3M420.88 2187.62L428.42 2191.97M428.42 2187.62L420.88 2191.97" stroke="#000" stroke-width="1.75" fill="none"/></g></g>
</svg></body></html>
